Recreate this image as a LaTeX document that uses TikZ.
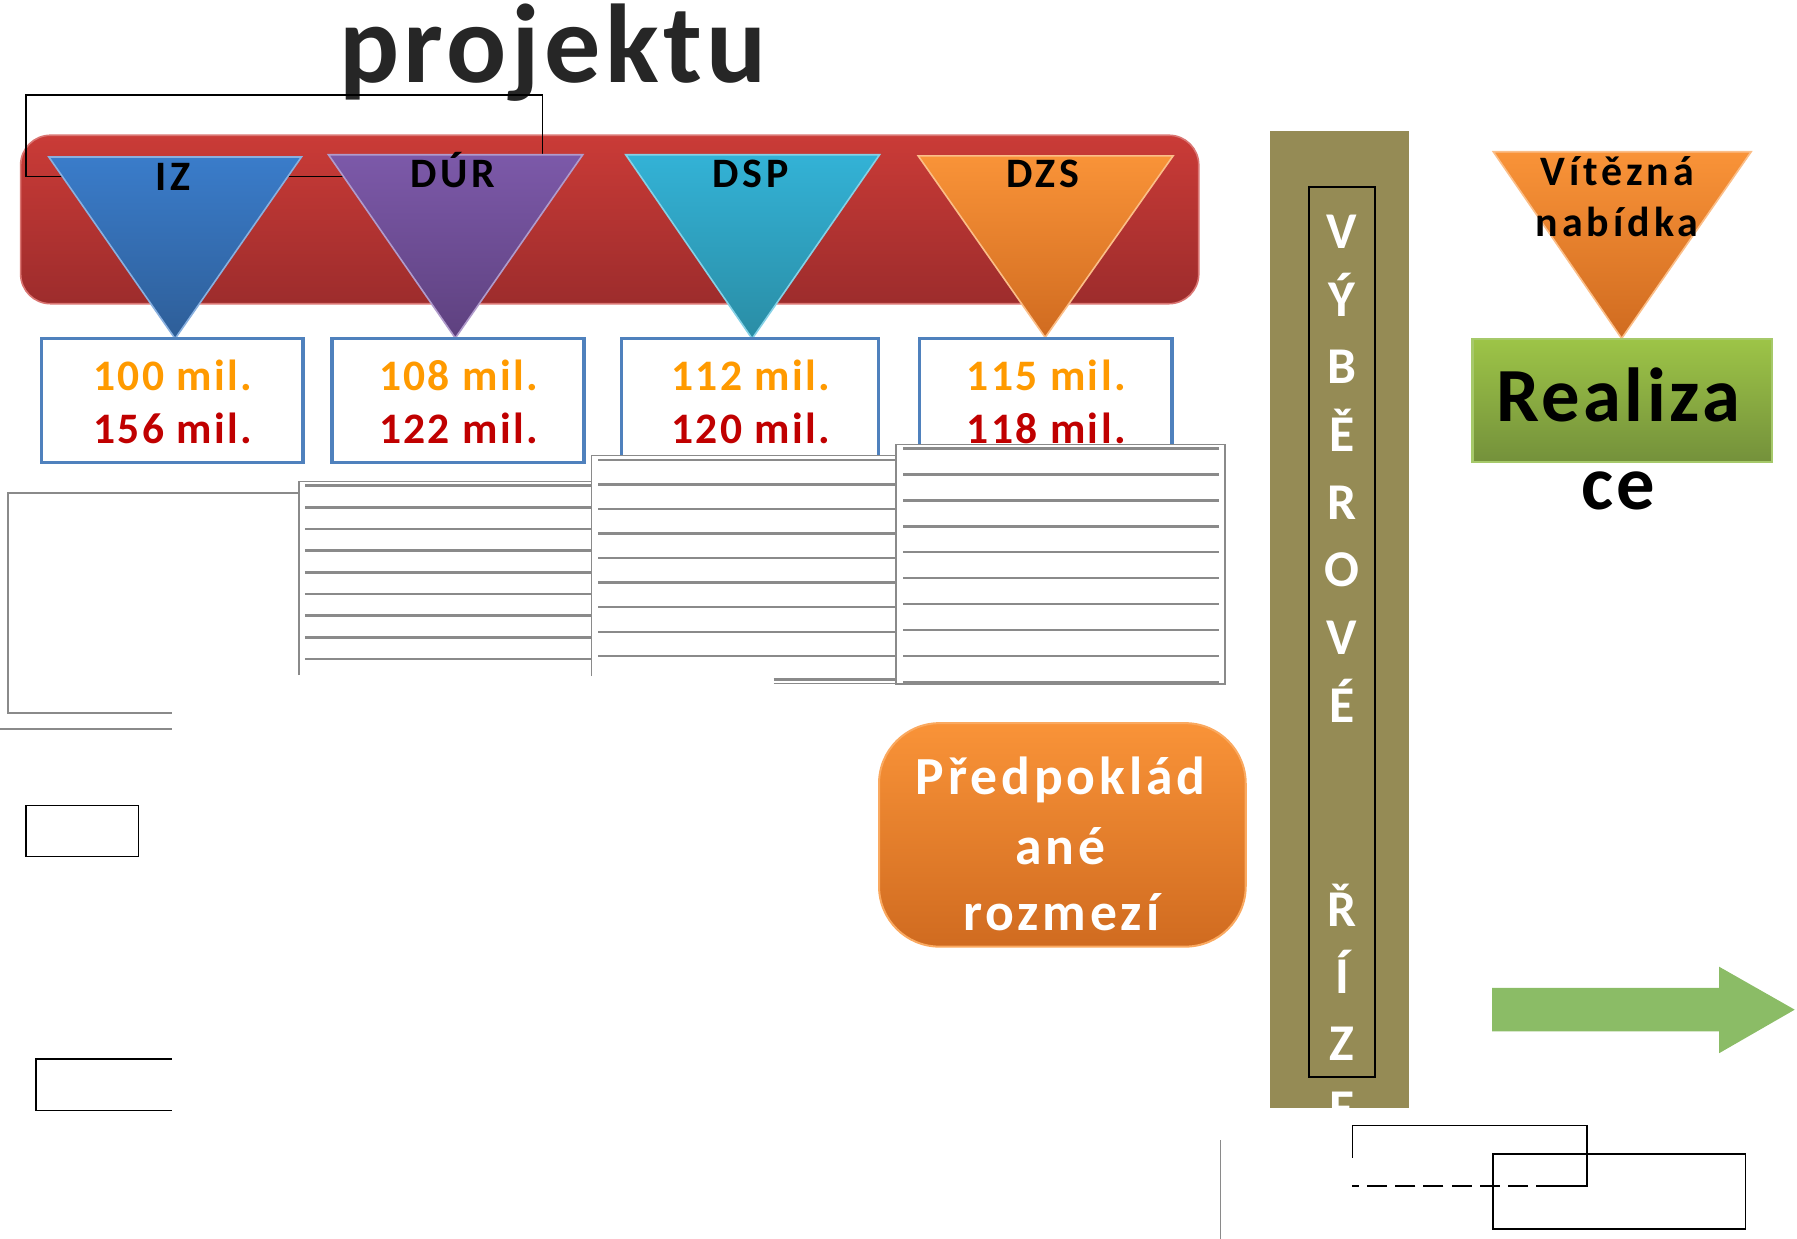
\documentclass[tikz,border=0pt]{standalone}
\usepackage{fontspec}
\setmainfont{Carlito}
\usetikzlibrary{math}

\definecolor{titlegray}{HTML}{262626}
\definecolor{bartop}{HTML}{CA3B37}
\definecolor{barbot}{HTML}{9D2C2C}
\definecolor{iztop}{HTML}{3A7CCA}
\definecolor{izbot}{HTML}{2E5E98}
\definecolor{durtop}{HTML}{7C59A9}
\definecolor{durbot}{HTML}{5E417F}
\definecolor{dsptop}{HTML}{33B2D6}
\definecolor{dspbot}{HTML}{2A8DA5}
\definecolor{ortop}{HTML}{F99338}
\definecolor{orbot}{HTML}{D06B20}
\definecolor{boxblue}{HTML}{4F81BD}
\definecolor{lowval}{HTML}{FF9A00}
\definecolor{highval}{HTML}{C00000}
\definecolor{rulegray}{HTML}{8A8A8A}
\definecolor{barolive}{HTML}{958B55}
\definecolor{greentop}{HTML}{9DC447}
\definecolor{greenbot}{HTML}{74913B}
\definecolor{greenedge}{HTML}{A6C96A}
\definecolor{arrowgreen}{HTML}{8BBC66}

\begin{document}
\begin{tikzpicture}[x = 0.01cm, y = -0.01cm,
    tri label/.style = {font = \bfseries\fontsize{10.4}{12}\selectfont\addfontfeatures{LetterSpace=9.5}, anchor = base, inner sep = 0pt},
    val text/.style = {font = \bfseries\fontsize{10.8}{12}\selectfont\addfontfeatures{LetterSpace=5.5}, anchor = base, inner sep = 0pt},
    val box/.style = {draw = boxblue, line width = 0.9pt, fill = white, inner sep = 0pt},
    ruleline/.style = {draw = rulegray, line width = 0.6pt},
    sheetline/.style = {draw = rulegray, line width = 0.4pt},
    vletter/.style = {text = white, font = \bfseries\fontsize{12.8}{14}\selectfont, anchor = base, inner sep = 0pt},
    pred text/.style = {text = white, font = \bfseries\fontsize{13.3}{15}\selectfont\addfontfeatures{LetterSpace=7.4}, anchor = base, inner sep = 0pt},
    big text/.style = {font = \bfseries\fontsize{19}{22}\selectfont\addfontfeatures{LetterSpace=4.5}, anchor = base, inner sep = 0pt},
    thin frame/.style = {draw = black, line width = 0.4pt}]
    \useasboundingbox (0,0) rectangle (1568,1081);

    % title
    \node[text = titlegray, font = \bfseries\fontsize{27.8}{32}\selectfont\addfontfeatures{LetterSpace=4}, anchor = base, inner sep = 0pt] (title) at (482.5,72) {projektu};

    % red bar with the phases
    \shade[top color = bartop, bottom color = barbot, draw = bartop!70!white, line width = 0.4pt, rounded corners = 7.4pt] (18,118) rectangle (1046,265);
    \draw[thin frame] (22.5,83) rectangle (473.4,154);

    \foreach \xl/\xr/\yt/\xa/\ya/\ct/\cb in {42.6/263/137/152.8/295.5/iztop/izbot, 286.6/508.5/135/397.3/295/durtop/durbot, 546/767.5/135/656.3/295.5/dsptop/dspbot, 801.2/1023.6/136/912/294.4/ortop/orbot, 1303/1528/132.4/1415/295.3/ortop/orbot}
        \shade[top color = \ct, bottom color = \cb, draw = \ct!60!white, line width = 0.4pt] (\xl,\yt) -- (\xr,\yt) -- (\xa,\ya) -- cycle;

    \node[tri label] (iz) at (151,166) {IZ};
    \node[tri label] (dur) at (395,163.6) {DÚR};
    \node[tri label] (dsp) at (655,163.6) {DSP};
    \node[tri label] (dzs) at (910,163.5) {DZS};
    \node[tri label] (win1) at (1411,161.5) {Vítězná};
    \node[tri label] (win2) at (1411,206) {nabídka};

    % price boxes
    \foreach \cx/\w/\lo/\hi/\k in {150.3/2.28cm/100/156/1, 399.5/2.20cm/108/122/2, 654.5/2.24cm/112/120/3, 912.5/2.20cm/115/118/4}{
        \node[val box, minimum width = \w, minimum height = 1.08cm] (box\k) at (\cx,349.5) {};
        \node[val text, text = lowval] (lo\k) at (\cx+0.5,341) {\lo{} mil.};
        \node[val text, text = highval] (hi\k) at (\cx+0.5,387) {\hi{} mil.};
    }

    % sheets with rules
    \draw[sheetline] (150,622) -- (7,622) -- (7,430) -- (261,430);
    \draw[sheetline] (0,636) -- (150,636);
    \tikzmath{
        function paint_rules(\xa,\xb,\ystart,\gap,\num){
            for \i in {0,...,\num-1}{
                \ruley = \ystart + \i*\gap;
                {
                    \draw[ruleline] (\xa,\ruley) -- (\xb,\ruley);
                };
            };
        };
        {
            \fill[white] (261,420) rectangle (516,589);
            \draw[sheetline] (261,589) -- (261,420) -- (516,420);
        };
        paint_rules(266,516,423.8,18.9,9);
        {
            \fill[white] (516,397.6) rectangle (782,590);
            \draw[sheetline] (516,590) -- (516,397.6) -- (782,397.6);
        };
        paint_rules(522,782,401.4,21.4,9);
        {
            \draw[ruleline] (675,593) -- (782,593);
            \draw[sheetline] (675,596.5) -- (782,596.5);
            \filldraw[sheetline, fill = white] (782,388) rectangle (1069,597);
        };
        paint_rules(788,1064,391.5,22.6,10);
    }

    % selection procedure
    \fill[barolive] (1108,114) rectangle (1229.6,967);
    \draw[thin frame] (1142,163) rectangle (1200,939.5);
    \foreach \ch/\by [count = \k] in {V/217, Ý/276, B/335, Ě/394, R/453, O/512, V/571, É/630, Ř/808, Í/867, Z/925, E/982}
        \node[vletter] (vr\k) at (1171,\by) {\ch};

    % estimated range
    \shade[top color = ortop, bottom color = orbot, draw = ortop!80!white, line width = 0.5pt, rounded corners = 15pt] (767,631) rectangle (1087,826);
    \node[pred text] (pred1) at (925.5,693) {Předpoklád};
    \node[pred text] (pred2) at (925,754) {ané};
    \node[pred text] (pred3) at (926,812) {rozmezí};

    % realisation
    \shade[top color = greentop, bottom color = greenbot, draw = greenedge, line width = 0.6pt] (1285,296) rectangle (1546,403);
    \node[big text] (real1) at (1412,368) {Realiza};
    \node[big text] (real2) at (1412,445) {ce};

    \fill[arrowgreen] (1302,862) -- (1500,862) -- (1500,843.5) -- (1566,881) -- (1500,919) -- (1500,900) -- (1302,900) -- cycle;

    % leftover frames
    \draw[thin frame] (22.5,703) rectangle (121,747.5);
    \draw[thin frame] (150,924) -- (31.6,924) -- (31.6,969) -- (150,969);
    \draw[rulegray, line width = 0.3pt] (1065,995) -- (1065,1081);
    \draw[thin frame] (1180,1010) -- (1180,982) -- (1385,982) -- (1385,1035) -- (1358,1035);
    \draw[thin frame, dash pattern = on 5pt off 2pt] (1358,1035) -- (1180,1035);
    \draw[thin frame] (1303,1007) rectangle (1523,1072.5);
\end{tikzpicture}
\end{document}
